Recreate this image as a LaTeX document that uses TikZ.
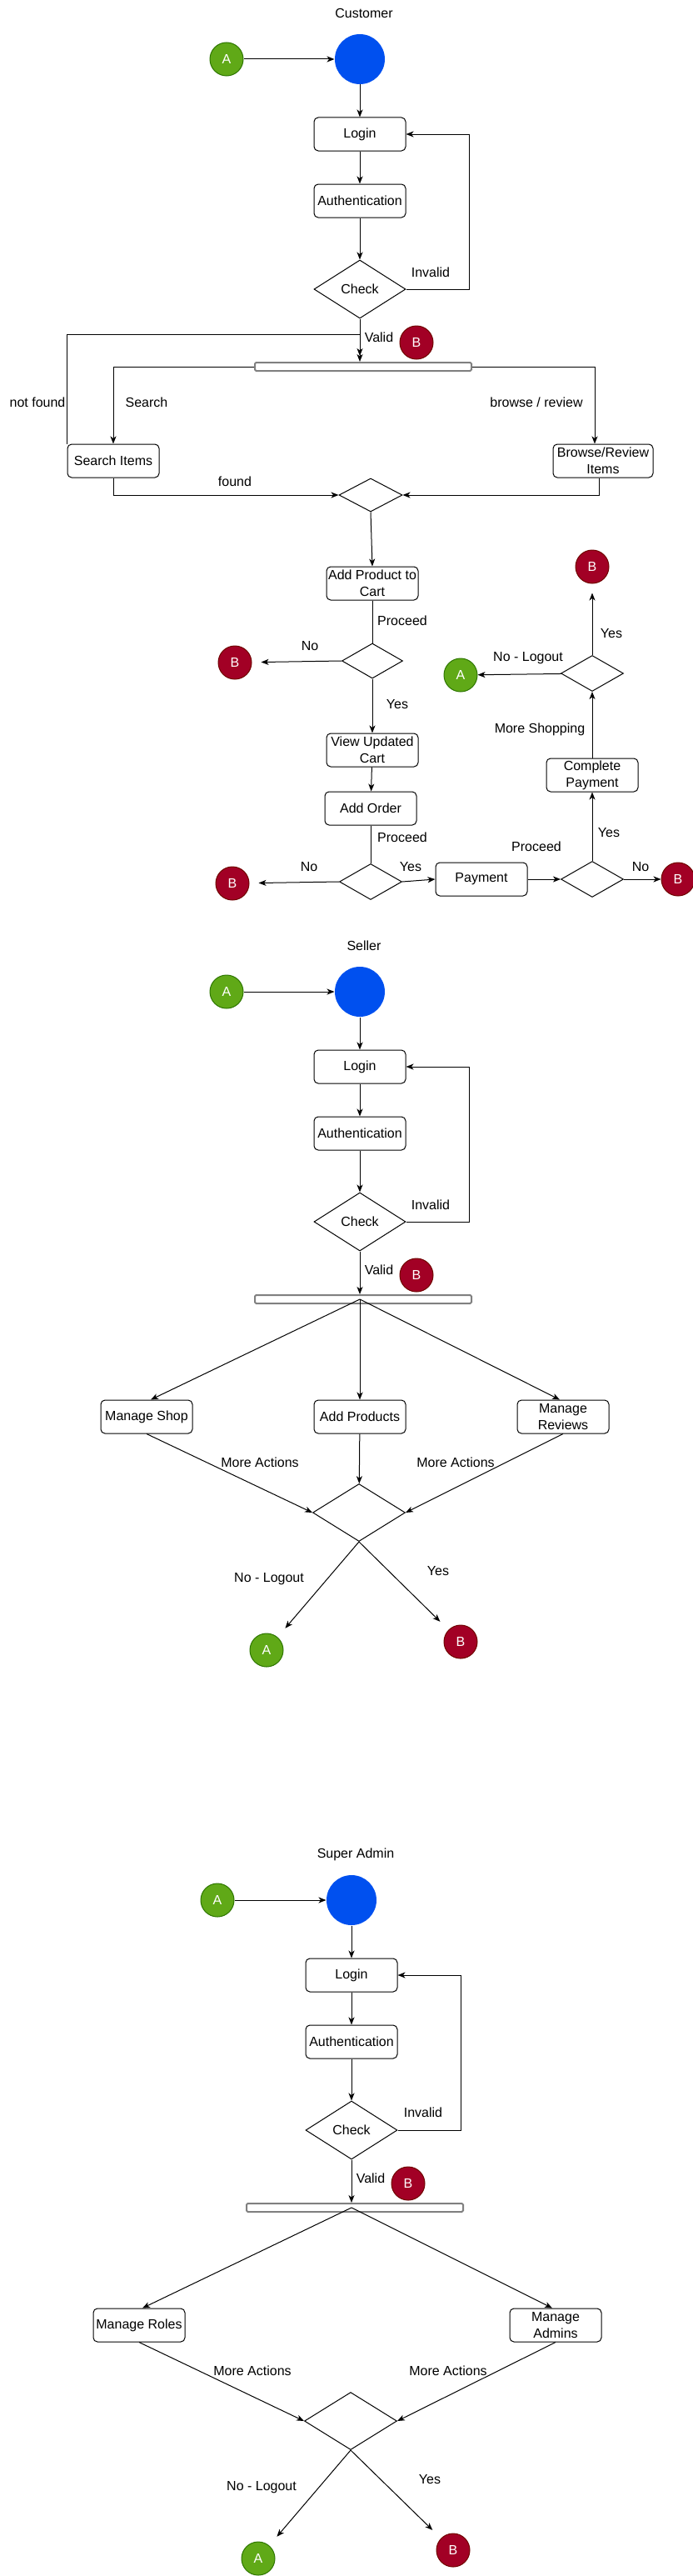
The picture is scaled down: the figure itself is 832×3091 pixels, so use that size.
\documentclass[tikz,border=0pt]{standalone}
\usepackage{fontspec}
\setmainfont{Liberation Sans}
\usetikzlibrary{positioning,arrows.meta,shapes.geometric}
\definecolor{ucBlue}{RGB}{0,80,239}
\definecolor{ucGreen}{RGB}{96,169,23}
\definecolor{ucGreenDk}{RGB}{45,118,0}
\definecolor{ucRed}{RGB}{162,0,37}
\definecolor{ucRedDk}{RGB}{111,0,0}
\definecolor{ucGray}{RGB}{128,128,128}

\begin{document}
\begin{tikzpicture}[x=1pt, y=-1pt, line width=1pt,
  font=\fontsize{16}{20}\selectfont,
  >={Stealth[length=9pt,width=7pt,inset=2.5pt]},
  act/.style={draw, rounded corners=5pt, minimum width=110pt, minimum height=40pt, inner sep=1pt, align=center},
  dec/.style 2 args={draw, diamond, inner sep=0pt, minimum width=#1, minimum height=#2},
  startdot/.style={circle, fill=ucBlue, minimum size=60pt, inner sep=0pt},
  conA/.style={circle, fill=ucGreen, draw=ucGreenDk, text=white, minimum size=40pt, inner sep=0pt},
  conB/.style={circle, fill=ucRed, draw=ucRedDk, text=white, minimum size=40pt, inner sep=0pt},
  forkbar/.style={draw=ucGray, line width=2pt, rounded corners=1.5pt, fill=white, minimum width=260pt, minimum height=10pt, inner sep=0pt},
  lbl/.style={inner sep=0pt}]
  \useasboundingbox (0,0) rectangle (832,3091);

  % Customer
  \node[lbl] (tCust) at (437,16) {Customer};
  \node[conA] (aCust) at (272,71) {A};
  \node[startdot] (sCust) at (432,71) {};
  \node[act] (loginCust) at (432,161) {Login};
  \node[act] (authCust) at (432,241) {Authentication};
  \node[dec={110pt}{70pt}] (checkCust) at (432,347) {Check};
  \node[forkbar] (barCust) at (436,440) {};
  \node[conB] (bCust) at (500,411) {B};
  \coordinate (nfJoin) at (432,401);

  \draw[->] (aCust) -- (sCust);
  \draw[->] (sCust) -- (loginCust);
  \draw[->] (loginCust) -- (authCust);
  \draw[->] (authCust) -- (checkCust);
  \draw[->] (checkCust.east) -- ++(76,0) |- (loginCust.east);
  \draw[->] (checkCust.south) -- (checkCust.south |- barCust.north);
  \node[lbl] (lInvCust) at (517,327) {Invalid};
  \node[lbl] (lValCust) at (455,405) {Valid};

  % Search / browse
  \node[act] (searchItems) at (136,553) {Search Items};
  \node[act, minimum width=120pt] (browseItems) at (724,553) {Browse/Review\\Items};
  \node[dec={76pt}{40pt}] (mergeCust) at (445,594) {};
  \draw[->, shorten >=7pt] (searchItems.north west) |- (nfJoin) -- (nfJoin |- barCust.north);
  \draw[->] (barCust.west) -| (searchItems.north);
  \draw[->] (barCust.east) -| ([xshift=-10pt]browseItems.north);
  \draw[->] (searchItems.south) |- (mergeCust.west);
  \draw[->] ([xshift=-5pt]browseItems.south) |- (mergeCust.east);
  \node[lbl] (lNotFound) at (45,483) {not found};
  \node[lbl] (lSearch) at (176,483) {Search};
  \node[lbl] (lBrowse) at (644,483) {browse / review};
  \node[lbl] (lFound) at (282,578) {found};

  % Cart and order
  \node[act] (addCart) at (447,700) {Add Product to\\Cart};
  \node[dec={73pt}{42pt}] (dCart) at (447,793) {};
  \node[conB] (bCart) at (282,795) {B};
  \node[act] (viewCart) at (447,900) {View Updated\\Cart};
  \node[act] (addOrder) at (445,970) {Add Order};
  \node[dec={75pt}{43pt}] (dOrder) at (445,1058) {};
  \node[conB] (bOrder) at (279,1060) {B};
  \node[act] (payment) at (578,1055) {Payment};
  \node[dec={75pt}{43pt}] (dPay) at (711,1055) {};
  \node[conB] (bPay) at (814,1055) {B};
  \node[act] (complete) at (711,930) {Complete\\Payment};
  \node[dec={75pt}{43pt}] (dMore) at (711,808) {};
  \node[conA] (aMore) at (553,810) {A};
  \node[conB] (bMore) at (711,680) {B};

  \draw[->] (mergeCust.south) -- (addCart.north);
  \draw (addCart) -- (dCart);
  \draw[->, shorten >=11pt] (dCart.west) -- (bCart);
  \draw[->] (dCart) -- (viewCart);
  \draw[->] (viewCart) -- (addOrder);
  \draw (addOrder) -- (dOrder);
  \draw[->, shorten >=11pt] (dOrder.west) -- (bOrder);
  \draw[->] (dOrder.east) -- (payment.west);
  \draw[->] (payment) -- (dPay);
  \draw[->] (dPay) -- (bPay);
  \draw[->] (dPay) -- (complete);
  \draw[->] (complete) -- (dMore);
  \draw[->] (dMore) -- (aMore);
  \draw[->, shorten >=11pt] (dMore) -- (bMore);

  \node[lbl] (lProc1) at (483,745) {Proceed};
  \node[lbl] (lNo1) at (372,775) {No};
  \node[lbl] (lYes1) at (477,845) {Yes};
  \node[lbl] (lProc2) at (483,1005) {Proceed};
  \node[lbl] (lNo2) at (371,1040) {No};
  \node[lbl] (lYes2) at (493,1040) {Yes};
  \node[lbl] (lProc3) at (644,1016) {Proceed};
  \node[lbl] (lNo3) at (769,1040) {No};
  \node[lbl] (lYes3) at (731,999) {Yes};
  \node[lbl] (lShop) at (648,875) {More Shopping};
  \node[lbl] (lLogout1) at (634,790) {No - Logout};
  \node[lbl] (lYes4) at (734,760) {Yes};

  % Seller
  \node[lbl] (tSell) at (437,1135) {Seller};
  \node[conA] (aSell) at (272,1190) {A};
  \node[startdot] (sSell) at (432,1190) {};
  \node[act] (loginSell) at (432,1280) {Login};
  \node[act] (authSell) at (432,1360) {Authentication};
  \node[dec={110pt}{70pt}] (checkSell) at (432,1466) {Check};
  \node[forkbar] (barSell) at (436,1559) {};
  \node[conB] (bSell) at (500,1530) {B};
  \coordinate (forkSell) at (432,1559);

  \draw[->] (aSell) -- (sSell);
  \draw[->] (sSell) -- (loginSell);
  \draw[->] (loginSell) -- (authSell);
  \draw[->] (authSell) -- (checkSell);
  \draw[->] (checkSell.east) -- ++(76,0) |- (loginSell.east);
  \draw[->] (checkSell.south) -- (checkSell.south |- barSell.north);
  \node[lbl] (lInvSell) at (517,1446) {Invalid};
  \node[lbl] (lValSell) at (455,1524) {Valid};

  \node[act] (shop) at (176,1700) {Manage Shop};
  \node[act] (addProd) at (432,1700) {Add Products};
  \node[act] (reviews) at (676,1700) {Manage\\Reviews};
  \node[dec={111pt}{69pt}] (dSell) at (431,1815) {};
  \node[conA] (aSellEnd) at (320,1980) {A};
  \node[conB] (bSellEnd) at (553,1970) {B};

  \draw[->] (forkSell) -- ([xshift=5pt]shop.north);
  \draw[->] (forkSell) -- (addProd.north);
  \draw[->] (forkSell) -- ([xshift=-4pt]reviews.north);
  \draw[->] (shop.south) -- (dSell.west);
  \draw[->] (addProd) -- (dSell);
  \draw[->] (reviews.south) -- (dSell.east);
  \draw[->, shorten >=14pt] (dSell.south) -- (aSellEnd);
  \draw[->, shorten >=14pt] (dSell.south) -- (bSellEnd);
  \node[lbl] (lMoreS1) at (312,1755) {More Actions};
  \node[lbl] (lMoreS2) at (547,1755) {More Actions};
  \node[lbl] (lLogoutS) at (323,1895) {No - Logout};
  \node[lbl] (lYesS) at (526,1885) {Yes};

  % Super Admin
  \node[lbl] (tAdm) at (427,2225) {Super Admin};
  \node[conA] (aAdm) at (261,2280) {A};
  \node[startdot] (sAdm) at (422,2280) {};
  \node[act] (loginAdm) at (422,2370) {Login};
  \node[act] (authAdm) at (422,2450) {Authentication};
  \node[dec={110pt}{70pt}] (checkAdm) at (422,2556) {Check};
  \node[forkbar] (barAdm) at (426,2649) {};
  \node[conB] (bAdm) at (490,2620) {B};
  \coordinate (forkAdm) at (422,2649);

  \draw[->] (aAdm) -- (sAdm);
  \draw[->] (sAdm) -- (loginAdm);
  \draw[->] (loginAdm) -- (authAdm);
  \draw[->] (authAdm) -- (checkAdm);
  \draw[->] (checkAdm.east) -- ++(76,0) |- (loginAdm.east);
  \draw[->] (checkAdm.south) -- (checkAdm.south |- barAdm.north);
  \node[lbl] (lInvAdm) at (508,2535) {Invalid};
  \node[lbl] (lValAdm) at (445,2614) {Valid};

  \node[act] (roles) at (167,2790) {Manage Roles};
  \node[act] (admins) at (667,2790) {Manage\\Admins};
  \node[dec={111pt}{69pt}] (dAdm) at (421,2905) {};
  \node[conA] (aAdmEnd) at (310,3070) {A};
  \node[conB] (bAdmEnd) at (544,3060) {B};

  \draw[->] (forkAdm) -- ([xshift=4pt]roles.north);
  \draw[->] (forkAdm) -- ([xshift=-4pt]admins.north);
  \draw[->] (roles.south) -- (dAdm.west);
  \draw[->] (admins.south) -- (dAdm.east);
  \draw[->, shorten >=14pt] (dAdm.south) -- (aAdmEnd);
  \draw[->, shorten >=14pt] (dAdm.south) -- (bAdmEnd);
  \node[lbl] (lMoreA1) at (303,2845) {More Actions};
  \node[lbl] (lMoreA2) at (538,2845) {More Actions};
  \node[lbl] (lLogoutA) at (314,2985) {No - Logout};
  \node[lbl] (lYesA) at (516,2975) {Yes};
\end{tikzpicture}
\end{document}
